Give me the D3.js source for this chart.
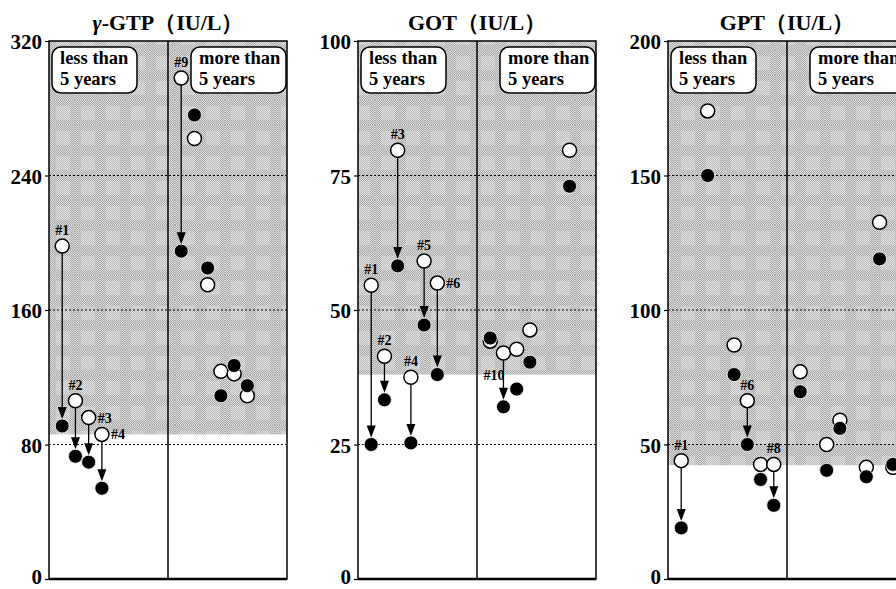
<!DOCTYPE html>
<head>
  <meta charset="utf-8">
  <script src="https://d3js.org/d3.v7.min.js"></script>
  <style>
    body { margin: 0; background: #fff; }
    text { font-family: "Liberation Serif", "DejaVu Serif", serif; font-weight: bold; }
  </style>
</head>
<body>
<svg width="896" height="589"></svg>
<script>

  // x slot of each subject, value before (open) and after (filled)
  let gtpPos = [1, 2, 3, 4, 10, 11, 12, 13, 14, 15],
    gtpBefore = [198, 106, 96, 86, 298, 262, 175, 123.5, 122, 109],
    gtpAfter = [91, 73, 69.5, 54, 195, 276, 185, 109, 127, 115],
    gtpLabels = ["#1", "#2", "#3", "#4", "#9", "", "", "", "", ""],
    gtpTicks = [0, 80, 160, 240, 320];

  let gotPos = [1, 2, 3, 4, 5, 6, 10, 11, 12, 13, 16],
    gotBefore = [54.6, 41.4, 79.7, 37.5, 59.1, 55, 44.2, 42, 42.7, 46.3, 79.7],
    gotAfter = [25, 33.3, 58.2, 25.3, 47.2, 38, 44.8, 32, 35.3, 40.3, 73],
    gotLabels = ["#1", "#2", "#3", "#4", "#5", "#6", "", "#10", "", "", ""],
    gotTicks = [0, 25, 50, 75, 100];

  let gptPos = [1, 3, 5, 6, 7, 8, 10, 12, 13, 15, 16, 17],
    gptBefore = [44, 174, 87, 66.3, 42.6, 42.6, 77, 50, 59, 41.5, 132.6, 41.5],
    gptAfter = [19, 150, 76, 50, 37, 27.4, 69.6, 40.4, 56, 38, 119, 42.6],
    gptLabels = ["#1", "", "", "#6", "", "#8", "", "", "", "", "", ""],
    gptTicks = [0, 50, 100, 150, 200];

  let limits = [86, 38, 42.3];
  let groupNames = [["less than", "5 years"], ["more than", "5 years"]];

  let panels = [
    {title: "GTP", gamma: true, pos: gtpPos, before: gtpBefore, after: gtpAfter, labels: gtpLabels, ticks: gtpTicks, limit: limits[0],
      side: {"#3": "right", "#4": "right"}},
    {title: "GOT", pos: gotPos, before: gotBefore, after: gotAfter, labels: gotLabels, ticks: gotTicks, limit: limits[1],
      side: {"#6": "right", "#10": "below"}},
    {title: "GPT", pos: gptPos, before: gptBefore, after: gptAfter, labels: gptLabels, ticks: gptTicks, limit: limits[2],
      side: {}}
  ];

  let svg = d3.select("svg"),
    lefts = [49, 358, 668],
    w = 238,
    plotTop = 41,
    plotBottom = 579,
    r = 7;

  // gray dithered shading
  let defs = svg.append("defs");
  let fine = defs.append("pattern").attr("id", "fine").attr("width", 2).attr("height", 2)
    .attr("patternUnits", "userSpaceOnUse");
  fine.append("rect").attr("width", 2).attr("height", 2).attr("fill", "#dcdcdc");
  fine.append("rect").attr("width", 1).attr("height", 1).attr("fill", "#a8a8a8");
  fine.append("rect").attr("x", 1).attr("y", 1).attr("width", 1).attr("height", 1).attr("fill", "#a8a8a8");
  let blocks = defs.append("pattern").attr("id", "blocks").attr("width", 25).attr("height", 25)
    .attr("patternUnits", "userSpaceOnUse");
  blocks.append("rect").attr("width", 25).attr("height", 25).attr("fill", "url(#fine)");
  blocks.append("rect").attr("x", 6).attr("y", 6).attr("width", 14).attr("height", 14)
    .attr("fill", "#fff").attr("opacity", 0.22);

  panels.forEach(function (p, i) {
    let left = lefts[i],
      max = p.ticks[p.ticks.length - 1];
    let x = d3.scaleLinear().domain([0, 18]).range([left, left + w]),
      y = d3.scaleLinear().domain([0, max]).range([plotBottom, plotTop]);
    let g = svg.append("g");

    g.append("rect")
      .attr("x", left).attr("y", y(max))
      .attr("width", w).attr("height", y(p.limit) - y(max))
      .attr("fill", "url(#blocks)");

    // dotted grid
    g.selectAll(".grid").data(p.ticks.slice(1, -1)).enter().append("line")
      .attr("x1", left).attr("x2", left + w)
      .attr("y1", d => y(d)).attr("y2", d => y(d))
      .attr("stroke", "#000").attr("stroke-width", 1.2).attr("stroke-dasharray", "2,2");

    let axis = d3.axisLeft(y).tickValues(p.ticks).tickSize(4).tickPadding(3);
    let ax = g.append("g").attr("transform", "translate(" + left + ",0)").call(axis);
    ax.select(".domain").remove();
    ax.selectAll("text").attr("font-size", 21).attr("dy", d => d === 0 ? "0.2em" : "0.36em")
      .attr("font-family", "Liberation Serif").attr("font-weight", "bold").attr("fill", "#000");
    ax.selectAll("line").attr("stroke-width", 1.2);

    // frame and divider
    g.append("rect").attr("x", left).attr("y", plotTop).attr("width", w).attr("height", plotBottom - plotTop)
      .attr("fill", "none").attr("stroke", "#000").attr("stroke-width", 1.5);
    g.append("line").attr("x1", left).attr("x2", left + w).attr("y1", plotBottom).attr("y2", plotBottom)
      .attr("stroke", "#000").attr("stroke-width", 2.5);
    g.append("line").attr("x1", x(9)).attr("x2", x(9)).attr("y1", plotTop).attr("y2", plotBottom)
      .attr("stroke", "#000").attr("stroke-width", 1.5);

    // title
    let t = g.append("text").attr("x", left + w / 2).attr("y", 30)
      .attr("text-anchor", "middle").attr("font-size", 22);
    if (p.gamma) {
      t.append("tspan").attr("font-style", "italic").text("γ");
      t.append("tspan").text("-" + p.title + "（IU/L）");
    } else {
      t.text(p.title + "（IU/L）");
    }

    // group boxes
    [[left + 3, 85], [left + w - 96, 95]].forEach(function (b, k) {
      g.append("rect").attr("x", b[0]).attr("y", 47).attr("width", b[1]).attr("height", 46)
        .attr("rx", 9).attr("fill", "#fff").attr("stroke", "#000").attr("stroke-width", 1.5);
      g.append("text").attr("x", b[0] + 8).attr("y", 64).attr("font-size", 18.5).text(groupNames[k][0]);
      g.append("text").attr("x", b[0] + 8).attr("y", 85).attr("font-size", 18.5).text(groupNames[k][1]);
    });

    let pts = p.pos.map((d, j) => ({x: d, b: p.before[j], a: p.after[j], label: p.labels[j]}));

    // arrows for labelled subjects
    pts.filter(d => d.label).forEach(function (d) {
      let cx = x(d.x), y0 = y(d.b) + r, y1 = y(d.a) - r;
      g.append("line").attr("x1", cx).attr("x2", cx).attr("y1", y0).attr("y2", y1 - 10)
        .attr("stroke", "#000").attr("stroke-width", 1.3);
      g.append("path")
        .attr("d", "M" + (cx - 4.5) + "," + (y1 - 12) + "L" + (cx + 4.5) + "," + (y1 - 12) + "L" + cx + "," + y1 + "Z")
        .attr("fill", "#000");
    });

    g.selectAll(".open").data(pts).enter().append("circle")
      .attr("cx", d => x(d.x)).attr("cy", d => y(d.b)).attr("r", r)
      .attr("fill", "#fff").attr("stroke", "#000").attr("stroke-width", 1.5);
    g.selectAll(".filled").data(pts).enter().append("circle")
      .attr("cx", d => x(d.x)).attr("cy", d => y(d.a)).attr("r", r)
      .attr("fill", "#000").attr("stroke", "#fff").attr("stroke-width", 0.8);

    // subject labels
    pts.filter(d => d.label).forEach(function (d) {
      let side = p.side[d.label] || "above",
        cx = x(d.x), cy = y(d.b);
      let lab = g.append("text").attr("font-size", 14).text(d.label);
      if (side === "above") lab.attr("x", cx).attr("y", cy - r - 4).attr("text-anchor", "middle");
      if (side === "right") lab.attr("x", cx + r + 2).attr("y", cy + 5);
      if (side === "below") lab.attr("x", cx + 1).attr("y", cy + 27).attr("text-anchor", "end");
    });
  });

</script>
</body>
